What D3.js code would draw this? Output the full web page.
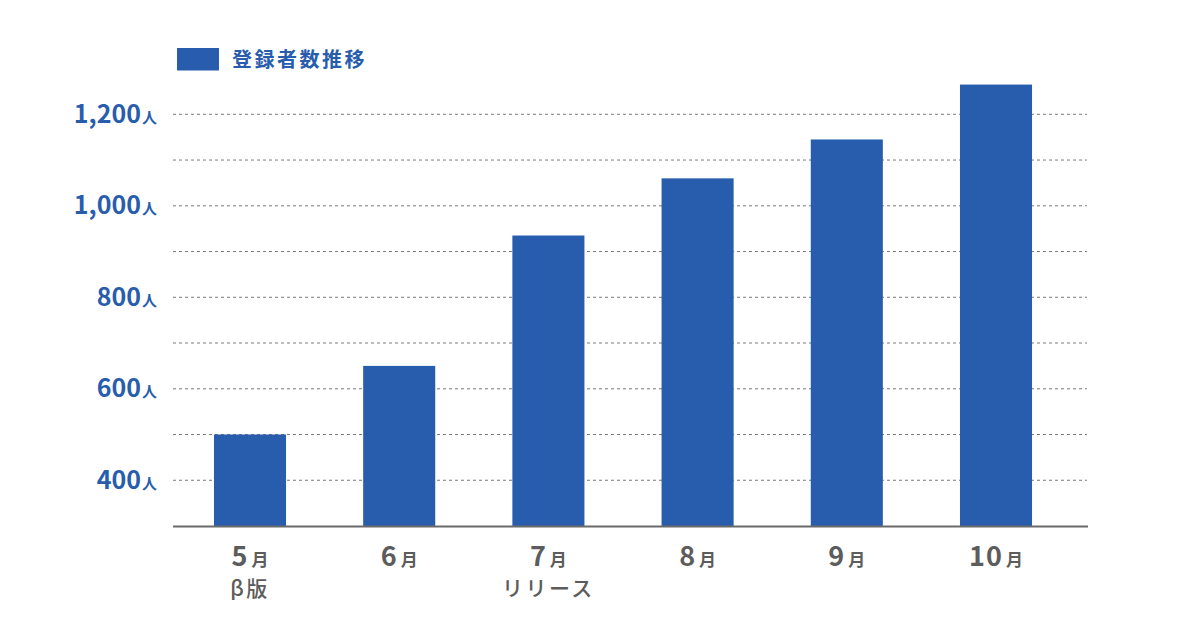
<!DOCTYPE html>
<html>
<head>
<meta charset="utf-8">
<script src="https://cdn.jsdelivr.net/npm/d3@7"></script>
<style>
  html, body { margin: 0; padding: 0; background: #fff; }
  svg { display: block; font-family: "Noto Sans CJK JP", "Noto Sans", sans-serif; }
</style>
</head>
<body>
<svg id="chart" width="1200" height="630"></svg>
<script>
// data
const months = ['5', '6', '7', '8', '9', '10'];
const notes = ['β版', '', 'リリース', '', '', ''];
const users = [500, 650, 935, 1060, 1145, 1265];
const gridValues = [400, 500, 600, 700, 800, 900, 1000, 1100, 1200];
const tickValues = [400, 600, 800, 1000, 1200];
const seriesName = '登録者数推移';

const BLUE = '#285dae';
const GRAY = '#5c5c5c';

const svg = d3.select('#chart');

const x = d3.scaleBand()
    .domain(months)
    .range([175.4, 1070.6])
    .paddingInner(0.517)
    .paddingOuter(0.2585);

const y = d3.scaleLinear()
    .domain([300, 1200])
    .range([526, 114.3]);

// grid
svg.append('g')
    .selectAll('line')
    .data(gridValues)
    .join('line')
    .attr('x1', 173)
    .attr('x2', 1087)
    .attr('y1', d => y(d))
    .attr('y2', d => y(d))
    .attr('stroke', '#7a7a7a')
    .attr('stroke-width', 1)
    .attr('stroke-dasharray', '3,3');

// bars
svg.append('g')
    .selectAll('rect')
    .data(users)
    .join('rect')
    .attr('x', (d, i) => x(months[i]))
    .attr('y', d => y(d))
    .attr('width', x.bandwidth())
    .attr('height', d => y(300) - y(d))
    .attr('fill', BLUE);

// baseline
svg.append('line')
    .attr('x1', 173)
    .attr('x2', 1088)
    .attr('y1', y(300) + 0.5)
    .attr('y2', y(300) + 0.5)
    .attr('stroke', '#6a6a6a')
    .attr('stroke-width', 2);

// y labels
const yl = svg.append('g')
    .selectAll('text')
    .data(tickValues)
    .join('text')
    .attr('x', 157)
    .attr('y', d => y(d) + 8.5)
    .attr('text-anchor', 'end')
    .attr('fill', BLUE)
    .attr('font-weight', 700);
yl.append('tspan')
    .attr('font-size', 25)
    .text(d => d3.format(',')(d));
yl.append('tspan')
    .attr('font-size', 15)
    .attr('dx', 1)
    .text('人');

// x labels
const xl = svg.append('g')
    .selectAll('text')
    .data(months)
    .join('text')
    .attr('x', d => x(d) + x.bandwidth() / 2)
    .attr('y', 565.5)
    .attr('text-anchor', 'middle')
    .attr('fill', GRAY)
    .attr('font-weight', 700);
xl.append('tspan')
    .attr('font-size', 27)
    .attr('letter-spacing', 1)
    .text(d => d);
xl.append('tspan')
    .attr('font-size', 17)
    .attr('dx', 3)
    .text('月');

svg.append('g')
    .selectAll('text')
    .data(notes)
    .join('text')
    .attr('x', (d, i) => x(months[i]) + x.bandwidth() / 2)
    .attr('y', 596)
    .attr('text-anchor', 'middle')
    .attr('fill', GRAY)
    .attr('font-size', 21)
    .attr('font-weight', 500)
    .attr('letter-spacing', 2.5)
    .text(d => d);

// legend
svg.append('rect')
    .attr('x', 177)
    .attr('y', 48)
    .attr('width', 42)
    .attr('height', 22.5)
    .attr('fill', BLUE);
svg.append('text')
    .attr('x', 232)
    .attr('y', 67)
    .attr('fill', BLUE)
    .attr('font-size', 20)
    .attr('font-weight', 700)
    .attr('letter-spacing', 2.5)
    .text(seriesName);
</script>
</body>
</html>
